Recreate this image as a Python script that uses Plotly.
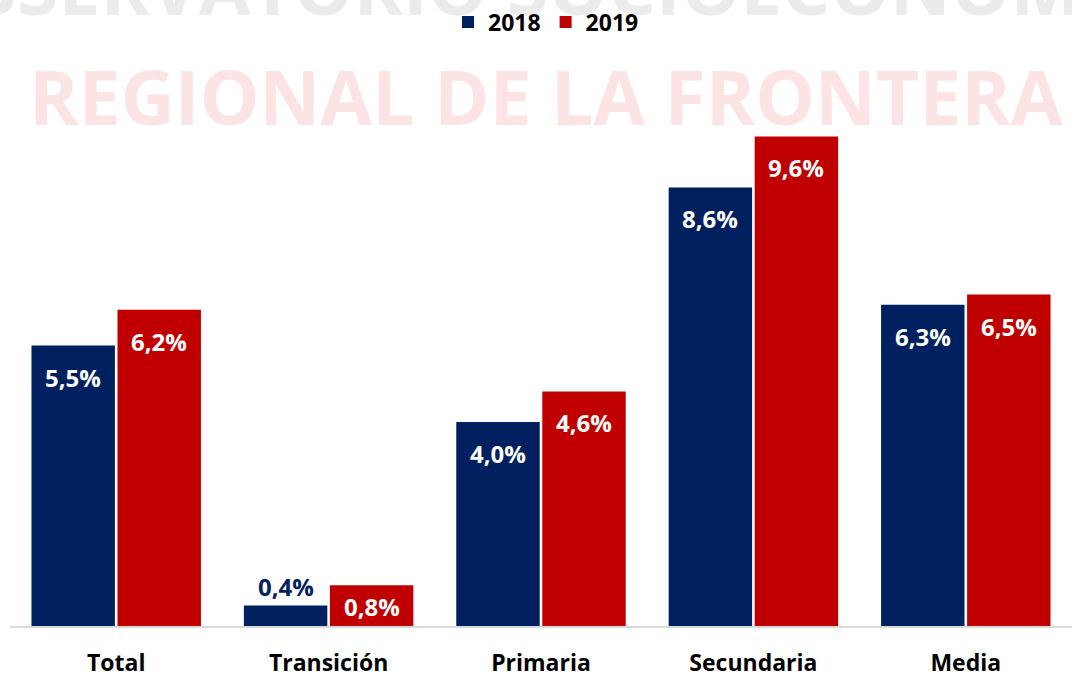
import plotly.graph_objects as go

categories = ["Total", "Transición", "Primaria", "Secundaria", "Media"]
years = ["2018", "2019"]
values_2018 = [5.5, 0.4, 4.0, 8.6, 6.3]
values_2019 = [6.2, 0.8, 4.6, 9.6, 6.5]
labels_2018 = ["5,5%", "0,4%", "4,0%", "8,6%", "6,3%"]
labels_2019 = ["6,2%", "0,8%", "4,6%", "9,6%", "6,5%"]

NAVY = "#002060"
RED = "#C00000"
FONT = "Open Sans"

def py(pix):
    return (626 - pix) / 526

def px(pix):
    return (pix - 10) / 1062

fig = go.Figure()
fig.add_trace(go.Bar(x=categories, y=values_2018, name=years[0], marker_color=NAVY,
                     marker_line_width=0, hoverinfo="skip"))
fig.add_trace(go.Bar(x=categories, y=values_2019, name=years[1], marker_color=RED,
                     marker_line_width=0, hoverinfo="skip"))

# watermark drawn below the legend as a shape label
fig.add_shape(type="rect", xref="paper", yref="paper", x0=px(-96), x1=px(1300),
              y0=py(42), y1=py(-80), line_width=0, fillcolor="rgba(0,0,0,0)", layer="below",
              label=dict(text="OBSERVATORIO SOCIOECONÓMICO", textposition="bottom left",
                         padding=0,
                         font=dict(family=FONT, size=75, color="#ebebeb", weight="bold")))

annotations = []
annotations.append(dict(text="REGIONAL DE LA FRONTERA", xref="paper", yref="paper",
                        x=px(546), y=py(96), xanchor="center", yanchor="middle",
                        showarrow=False,
                        font=dict(family=FONT, size=75, color="#fde4e4", weight="bold")))

offset = 43
for cat, v, lab in zip(categories, values_2018, labels_2018):
    if v < 1:
        annotations.append(dict(x=cat, y=v, text=lab, xref="x", yref="y", showarrow=False,
                                xshift=-offset, yshift=1, yanchor="bottom",
                                font=dict(family=FONT, size=24, color=NAVY, weight="bold")))
    else:
        annotations.append(dict(x=cat, y=v, text=lab, xref="x", yref="y", showarrow=False,
                                xshift=-offset, yshift=-13, yanchor="top",
                                font=dict(family=FONT, size=24, color="white", weight="bold")))
for cat, v, lab in zip(categories, values_2019, labels_2019):
    annotations.append(dict(x=cat, y=v, text=lab, xref="x", yref="y", showarrow=False,
                            xshift=offset, yshift=-3 if v < 1 else -13, yanchor="top",
                            font=dict(family=FONT, size=24, color="white", weight="bold")))

fig.update_layout(
    width=1072, height=677,
    margin=dict(l=10, r=0, t=100, b=51),
    paper_bgcolor="white", plot_bgcolor="white",
    barmode="group", bargap=0.19, bargroupgap=0.03,
    showlegend=True,
    legend=dict(orientation="h", x=px(546), xanchor="center", y=py(22),
                yanchor="middle",
                font=dict(family=FONT, size=23, color="black", weight="bold"),
                itemwidth=30, traceorder="normal", bgcolor="rgba(0,0,0,0)"),
    annotations=annotations,
    xaxis=dict(showline=True, linecolor="#d9d9d9", linewidth=1.5, ticks="",
               tickfont=dict(family=FONT, size=23, color="black", weight="bold"),
               ticklabelstandoff=16, showgrid=False, fixedrange=True, automargin=False),
    yaxis=dict(range=[0, 526 / 51], visible=False, showgrid=False, zeroline=False, fixedrange=True),
)

fig.write_html("out.html", config={"displayModeBar": False},
               post_script="document.body.style.margin='0';document.body.style.overflow='hidden';")
